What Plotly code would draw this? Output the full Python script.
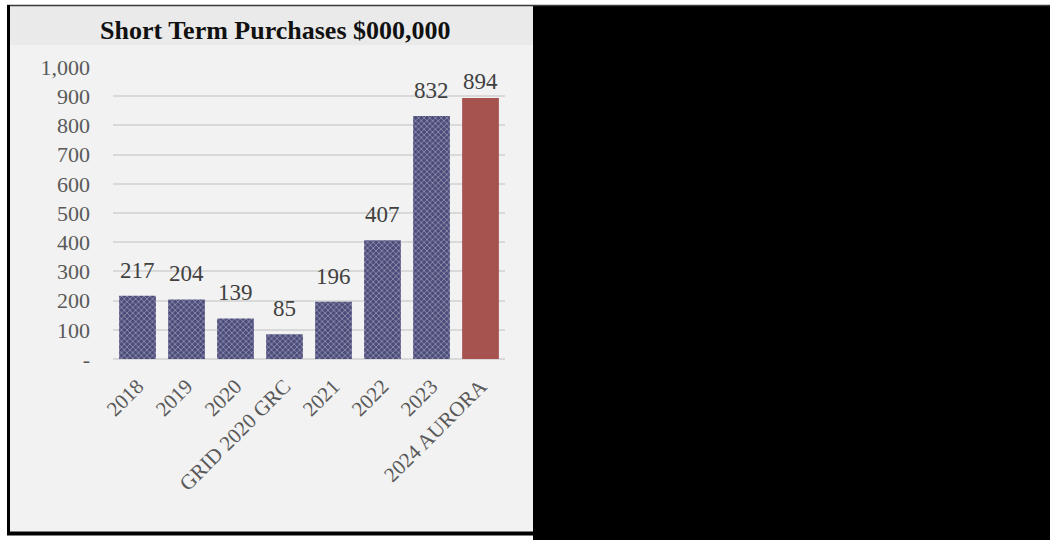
import plotly.graph_objects as go

# ---- data ----
categories = ["2018", "2019", "2020", "GRID 2020 GRC", "2021", "2022", "2023", "2024 AURORA"]
purchases = [217, 204, 139, 85, 196, 407, 832, 894]
y_tick_vals = [0, 100, 200, 300, 400, 500, 600, 700, 800, 900, 1000]
y_tick_text = ["-", "100", "200", "300", "400", "500", "600", "700", "800", "900", "1,000"]
title_text = "Short Term Purchases $000,000"

W, H = 1050, 540
SERIF = "Liberation Serif, Times New Roman, serif"

BLUE = "#4c4c7c"
BLUE_FG = "#68689a"
RED = "#a6534f"


def px_x(x):
    return x / W


def px_y(y):
    return 1 - y / H


# plot area in pixels
PLOT_L, PLOT_R, PLOT_T, PLOT_B = 113, 505, 67, 359
Y_MAX = 1000
px_per_unit = (PLOT_B - PLOT_T) / Y_MAX

bar_colors = [BLUE] * (len(categories) - 1) + [RED]
pattern_shapes = ["x"] * (len(categories) - 1) + [""]

fig = go.Figure()
fig.add_trace(go.Bar(
    x=categories,
    y=purchases,
    marker=dict(
        color=bar_colors,
        line=dict(width=0),
        pattern=dict(shape=pattern_shapes, fgcolor=BLUE_FG, size=4, solidity=0.3),
    ),
    hoverinfo="x+y",
))

# value labels above bars (positioned by category index), kept inside the frame near the top
annotations = []
for i, v in enumerate(purchases):
    room = (Y_MAX - v) * px_per_unit - 29
    shift = max(0, min(11, room))
    annotations.append(dict(
        x=i, y=v, xref="x", yref="y", text=str(v), showarrow=False,
        yanchor="bottom", yshift=shift,
        font=dict(family=SERIF, size=23, color="#404040"),
    ))

annotations.append(dict(
    x=px_x(275), y=px_y(31), xref="paper", yref="paper", text="<b>" + title_text + "</b>",
    showarrow=False, xanchor="center", yanchor="middle",
    font=dict(family=SERIF, size=26, color="#111111"),
))

shapes = [
    # chart panel background
    dict(type="rect", xref="paper", yref="paper", x0=px_x(9), x1=px_x(533), y0=px_y(533), y1=px_y(5),
         fillcolor="#f2f2f2", line=dict(width=0), layer="below"),
    # title band
    dict(type="rect", xref="paper", yref="paper", x0=px_x(10), x1=px_x(533), y0=px_y(45), y1=px_y(6),
         fillcolor="#eaeaea", line=dict(width=0), layer="below"),
    # black panel on the right
    dict(type="rect", xref="paper", yref="paper", x0=px_x(533), x1=px_x(1050), y0=px_y(540), y1=px_y(6),
         fillcolor="#000000", line=dict(width=0), layer="above"),
    # top rule
    dict(type="line", xref="paper", yref="paper", x0=px_x(7), x1=1, y0=px_y(5.5), y1=px_y(5.5),
         line=dict(color="#3a3a3a", width=1.5)),
    # left border
    dict(type="line", xref="paper", yref="paper", x0=px_x(8.5), x1=px_x(8.5), y0=px_y(535), y1=px_y(5),
         line=dict(color="#000000", width=3)),
    # bottom border
    dict(type="line", xref="paper", yref="paper", x0=px_x(7), x1=px_x(533), y0=px_y(533.5), y1=px_y(533.5),
         line=dict(color="#000000", width=4)),
]

fig.update_layout(
    width=W, height=H,
    autosize=False,
    margin=dict(l=0, r=0, t=0, b=0, pad=0, autoexpand=False),
    paper_bgcolor="#ffffff",
    plot_bgcolor="rgba(0,0,0,0)",
    showlegend=False,
    bargap=0.25,
    annotations=annotations,
    shapes=shapes,
    xaxis=dict(
        type="category",
        categoryorder="array",
        categoryarray=categories,
        range=[-0.5, len(categories) - 0.5],
        domain=[px_x(PLOT_L), px_x(PLOT_R)],
        tickangle=-45,
        tickfont=dict(family=SERIF, size=21, color="#595959"),
        showgrid=False, showline=False, zeroline=False, ticks="",
        ticklabelstandoff=10,
        automargin=False,
    ),
    yaxis=dict(
        domain=[px_y(PLOT_B), px_y(PLOT_T)],
        range=[0, Y_MAX],
        tickvals=y_tick_vals,
        ticktext=y_tick_text,
        tickfont=dict(family=SERIF, size=22, color="#595959"),
        showgrid=True, gridcolor="#d9d9d9", gridwidth=2,
        zeroline=True, zerolinecolor="#d9d9d9", zerolinewidth=2,
        showline=False, ticks="",
        ticklabelstandoff=22,
        automargin=False,
    ),
)

fig.write_html("out.html")
